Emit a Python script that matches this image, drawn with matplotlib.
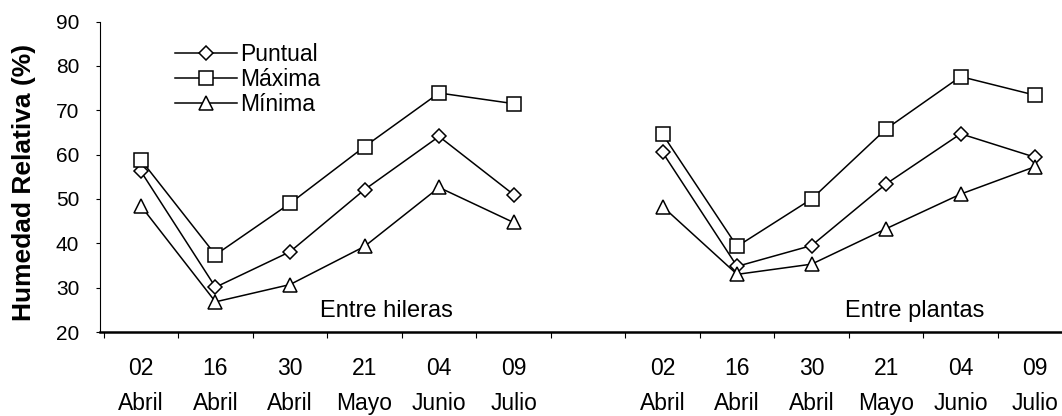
import numpy as np
import matplotlib
matplotlib.use("Agg")
import matplotlib.pyplot as plt

plt.rcParams['font.family'] = ['Liberation Sans', 'DejaVu Sans']

# fechas de muestreo (igual en ambos paneles)
dias = ["02", "16", "30", "21", "04", "09"]
meses = ["Abril", "Abril", "Abril", "Mayo", "Junio", "Julio"]

# humedad relativa (%) entre hileras
hileras_puntual = [56.2, 30.1, 38.1, 52.1, 64.1, 51.0]
hileras_maxima = [58.8, 37.4, 49.0, 61.8, 73.9, 71.5]
hileras_minima = [48.4, 26.8, 30.7, 39.3, 52.6, 44.7]

# humedad relativa (%) entre plantas
plantas_puntual = [60.5, 34.8, 39.5, 53.4, 64.7, 59.4]
plantas_maxima = [64.6, 39.3, 50.0, 65.8, 77.6, 73.4]
plantas_minima = [48.3, 33.0, 35.3, 43.3, 51.1, 57.3]

W, H = 1062, 416
fig = plt.figure(figsize=(W / 100, H / 100), dpi=100)
ax = fig.add_axes([100 / W, 1 - 332 / H, (W - 100) / W, (332 - 21.6) / H])

x_hil = np.arange(len(dias))
x_pla = np.arange(len(dias)) + len(dias) + 1

estilos = [
    ("Puntual", "D", 7.5, hileras_puntual, plantas_puntual),
    ("Máxima", "s", 9.5, hileras_maxima, plantas_maxima),
    ("Mínima", "^", 9.5, hileras_minima, plantas_minima),
]
for nombre, mk, ms, yh, yp in estilos:
    kw = dict(color="black", lw=1.1, marker=mk, markersize=ms,
              markerfacecolor="white", markeredgecolor="black", markeredgewidth=1.1)
    ax.plot(x_hil, yh, label=nombre, **kw)
    ax.plot(x_pla, yp, **kw)

ax.set_xlim(-0.55, 12.36)
ax.set_ylim(20, 90)
ax.set_yticks(np.arange(20, 91, 10))

xs = np.concatenate([x_hil, x_pla])
ax.set_xticks(xs)
ax.set_xticklabels([f"{d}\n{m}" for d, m in zip(dias, meses)] * 2, linespacing=1.66)
ax.set_xticks(np.arange(-0.5, 12, 1.0), minor=True)
ax.tick_params(axis="x", which="major", length=0, pad=18, labelsize=16.5)
ax.tick_params(axis="x", which="minor", length=4, width=0.8, direction="out")
ax.tick_params(axis="y", length=3, width=0.8, pad=12, labelsize=15)

for s in ["top", "right"]:
    ax.spines[s].set_visible(False)
ax.spines["bottom"].set_linewidth(1.8)
ax.spines["left"].set_linewidth(0.8)

ax.text(3.29, 24.7, "Entre hileras", ha="center", va="center", fontsize=17)
ax.text(10.38, 24.7, "Entre plantas", ha="center", va="center", fontsize=17)

fig.text(24 / W, 1 - 182 / H, "Humedad Relativa (%)", rotation=90,
         ha="center", va="center", fontsize=19, fontweight="bold")

ax.legend(loc="upper left", bbox_to_anchor=(175 / W, 1 - 43 / H),
          bbox_transform=fig.transFigure, frameon=False, fontsize=16.5,
          handlelength=2.7, handletextpad=0.15, labelspacing=0.08,
          borderpad=0, borderaxespad=0)

fig.savefig("out.png", dpi=100)
